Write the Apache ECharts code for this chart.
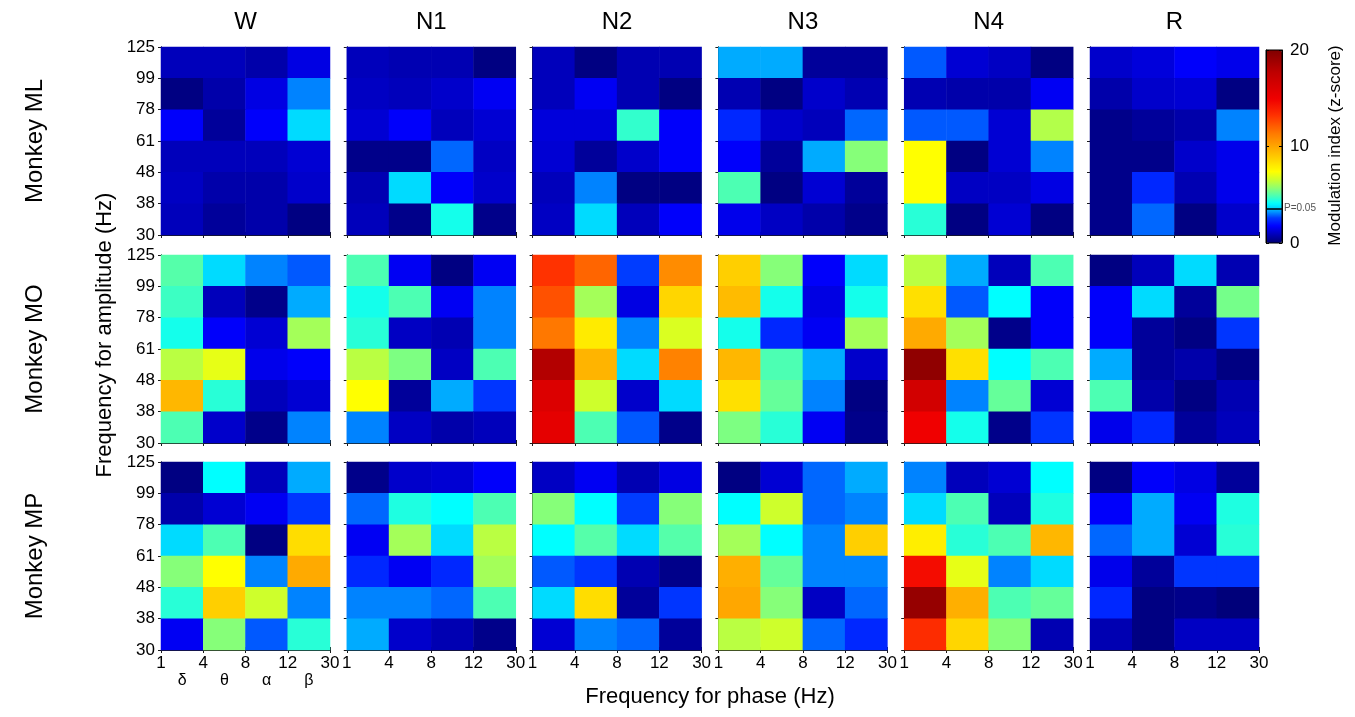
<!DOCTYPE html>
<html><head><meta charset="utf-8">
<script src="https://cdn.jsdelivr.net/npm/echarts@6/dist/echarts.min.js"></script>
<style>html,body{margin:0;padding:0;background:#fff}#c{width:1355px;height:717px}</style>
</head><body><div id="c"></div>
<script>
// ---------------- DATA ----------------
const stages = ['W', 'N1', 'N2', 'N3', 'N4', 'R'];
const monkeys = ['Monkey ML', 'Monkey MO', 'Monkey MP'];
const phaseTicks = ['1', '4', '8', '12', '30'];          // boundaries of phase bins (Hz)
const ampTicks = ['30', '38', '48', '61', '78', '99', '125']; // boundaries of amplitude bins (Hz)
const phaseBins = ['1-4', '4-8', '8-12', '12-30'];
const ampBins = ['30-38', '38-48', '48-61', '61-78', '78-99', '99-125'];
const bandLabels = ['δ', 'θ', 'α', 'β'];
const zMin = 0, zMax = 20, zTickStep = 10;
const pThreshold = 3.58;   // z-score line marked P=0.05

// Each panel: rows from top (99-125 Hz) to bottom (30-38 Hz); columns 1-4, 4-8, 8-12, 12-30 Hz
const ML_W  = [[0.9,0.9,0.7,1.4],[0.2,0.7,1.4,3.1],[1.7,0.5,1.7,3.7],[0.9,0.9,0.9,1.2],[1.0,0.7,0.7,1.1],[0.9,0.5,0.7,0.2]];
const ML_N1 = [[0.9,0.8,0.8,0.2],[1.0,0.9,1.1,1.6],[1.2,1.7,0.9,1.2],[0.3,0.3,2.9,1.0],[0.8,3.7,1.7,1.1],[0.9,0.3,4.3,0.3]];
const ML_N2 = [[0.9,0.2,0.8,0.8],[0.9,1.6,0.8,0.2],[1.3,1.3,4.6,1.7],[1.2,0.5,1.1,1.7],[0.9,3.1,0.2,0.2],[1.0,3.7,0.9,1.7]];
const ML_N3 = [[3.4,3.4,0.5,0.5],[0.8,0.2,1.1,0.8],[2.3,1.1,0.9,2.9],[1.7,0.5,3.4,5.6],[4.9,0.2,1.2,0.5],[1.5,1.0,0.7,0.3]];
const ML_N4 = [[2.8,1.2,1.0,0.2],[0.8,0.7,0.7,1.6],[2.8,2.8,1.2,6.2],[7.4,0.2,1.2,3.1],[7.4,1.0,1.0,1.4],[4.5,0.2,1.2,0.2]];
const ML_R  = [[1.1,1.3,1.7,1.5],[0.7,1.1,1.2,0.2],[0.3,0.5,0.7,3.1],[0.3,0.3,1.1,1.5],[0.3,2.3,0.8,1.5],[0.3,2.9,0.2,1.1]];

const MO_W  = [[5.0,3.7,3.1,2.8],[4.7,0.9,0.3,3.4],[4.3,1.7,1.2,6.0],[6.3,7.0,1.5,1.7],[9.5,4.5,0.9,1.2],[4.9,1.1,0.3,3.1]];
const MO_N1 = [[4.9,1.6,0.2,1.6],[4.3,4.9,1.6,3.1],[4.5,1.0,0.8,3.1],[6.3,5.5,1.0,4.9],[7.4,0.5,3.4,2.5],[3.1,1.0,0.7,0.9]];
const MO_N2 = [[13.2,11.9,2.6,10.8],[12.4,6.0,1.4,8.6],[11.4,8.0,3.1,6.8],[18.1,9.6,3.7,11.1],[16.0,6.6,1.1,3.7],[15.5,4.9,2.8,0.3]];
const MO_N3 = [[8.8,5.6,1.7,3.7],[9.4,4.3,1.4,4.3],[4.3,2.3,1.6,6.0],[9.5,4.9,3.4,1.1],[8.3,5.2,3.1,0.2],[5.5,4.5,1.6,0.3]];
const MO_N4 = [[6.3,3.4,0.9,4.9],[8.3,2.8,4.1,1.7],[9.9,6.0,0.3,1.7],[19.4,8.3,4.1,4.9],[16.6,3.1,5.2,1.2],[14.9,4.3,0.3,2.5]];
const MO_R  = [[0.2,0.9,3.7,0.8],[1.7,3.7,0.5,5.4],[1.7,0.5,0.2,2.5],[3.4,0.5,0.7,0.2],[4.9,0.7,0.2,0.8],[1.5,2.3,0.5,0.9]];

const MP_W  = [[0.2,4.1,0.9,3.4],[0.7,1.2,1.6,2.5],[3.7,4.9,0.2,8.4],[5.6,7.4,3.1,9.9],[4.5,8.8,6.6,3.1],[1.6,5.6,2.8,4.5]];
const MP_N1 = [[0.3,1.1,1.2,1.7],[2.9,4.4,4.1,4.9],[1.6,6.0,3.7,6.3],[2.3,1.6,2.3,6.0],[3.1,3.1,2.9,4.9],[3.4,1.1,0.8,0.3]];
const MP_N2 = [[1.0,1.6,0.8,1.4],[5.6,4.1,2.6,5.6],[4.1,5.0,3.7,5.0],[2.8,2.5,0.8,0.3],[3.7,8.4,0.5,2.5],[1.2,3.1,2.9,0.5]];
const MP_N3 = [[0.2,1.2,2.9,3.4],[4.1,6.6,2.9,3.1],[6.0,4.1,3.1,8.8],[9.75,5.2,3.1,3.1],[10.0,5.6,1.0,2.9],[6.3,6.6,2.9,2.3]];
const MP_N4 = [[3.1,0.9,1.2,4.1],[3.7,4.9,0.9,4.4],[7.9,4.5,4.9,9.5],[14.5,7.0,3.1,3.7],[19.2,9.75,4.9,5.2],[13.4,8.6,5.6,0.8]];
const MP_R  = [[0.2,1.7,1.4,0.5],[1.7,3.4,1.6,4.4],[2.9,3.4,1.2,4.5],[1.5,0.5,2.5,2.5],[2.3,0.2,0.3,0.1],[0.8,0.2,1.0,1.0]];

const panels = [
  [ML_W, ML_N1, ML_N2, ML_N3, ML_N4, ML_R],
  [MO_W, MO_N1, MO_N2, MO_N3, MO_N4, MO_R],
  [MP_W, MP_N1, MP_N2, MP_N3, MP_N4, MP_R]
];

// ---------------- STYLE / LAYOUT ----------------
const FONT = 'Liberation Sans, Arial, Helvetica, sans-serif';
const LAY = { left0: 161, step: 185.8, width: 169, tops: [47, 255, 462], height: 188 };
const CB = { left: 1266, top: 50, width: 16, height: 193 };
const EDGE = '#1a1a1a';

// colormap stops (value -> colour), jet-like with a break at the P=0.05 line
const cmapStops = [
  [0, [0,0,114]], [1.75, [0,0,255]], [2.6, [0,60,255]], [3.3, [0,160,255]], [3.57, [0,190,255]],
  [3.6, [0,210,255]], [4.1, [0,255,255]], [4.7, [60,255,195]], [5.8, [150,255,105]], [6.5, [200,255,50]],
  [7.4, [255,255,0]], [9.6, [255,180,0]], [11.4, [255,120,0]], [13.2, [255,50,0]], [14.9, [240,0,0]],
  [17.7, [190,0,0]], [20, [128,0,0]]
];
function cmapAt(v) {
  for (let i = 1; i < cmapStops.length; i++) {
    const [v1, c1] = cmapStops[i];
    const [v0, c0] = cmapStops[i - 1];
    if (v <= v1) {
      const f = (v - v0) / (v1 - v0);
      const c = c0.map((x, k) => Math.round(x + (c1[k] - x) * f));
      return 'rgb(' + c.join(',') + ')';
    }
  }
  return 'rgb(128,0,0)';
}
const cmapColors = [];
for (let i = 0; i <= 400; i++) cmapColors.push(cmapAt(zMin + (zMax - zMin) * i / 400));

// ---------------- BUILD ----------------
const grid = [], xAxis = [], yAxis = [], series = [], graphic = [];
let k = 0;
for (let r = 0; r < 3; r++) {
  for (let c = 0; c < 6; c++) {
    const left = LAY.left0 + c * LAY.step;
    const top = LAY.tops[r];
    grid.push({ left: left, top: top, width: LAY.width, height: LAY.height, containLabel: false, show: false });
    xAxis.push({ type: 'category', gridIndex: k, data: phaseBins, position: 'top',
      axisLine: { show: true, lineStyle: { color: EDGE, width: 1 } },
      axisTick: { show: true, inside: true, length: 3, lineStyle: { color: EDGE } },
      axisLabel: { show: false }, splitLine: { show: false } });
    xAxis.push({ type: 'value', gridIndex: k, min: 0, max: phaseTicks.length - 1, interval: 1, position: 'bottom',
      axisLine: { show: true, onZero: false, lineStyle: { color: EDGE, width: 1 } },
      axisTick: { show: true, inside: true, length: 3, lineStyle: { color: EDGE } },
      splitLine: { show: false },
      axisLabel: { show: r === 2, color: '#000', fontSize: 17, fontFamily: FONT, margin: 5,
        showMinLabel: true, showMaxLabel: true,
        formatter: v => phaseTicks[Math.round(v)] } });
    yAxis.push({ type: 'category', gridIndex: k, data: ampBins, position: 'right',
      axisLine: { show: true, lineStyle: { color: EDGE, width: 1 } },
      axisTick: { show: true, inside: true, length: 3, lineStyle: { color: EDGE } },
      axisLabel: { show: false }, splitLine: { show: false } });
    yAxis.push({ type: 'value', gridIndex: k, min: 0, max: ampTicks.length - 1, interval: 1, position: 'left',
      axisLine: { show: true, onZero: false, lineStyle: { color: EDGE, width: 1 } },
      axisTick: { show: true, inside: true, length: 3, lineStyle: { color: EDGE } },
      splitLine: { show: false },
      axisLabel: { show: c === 0, color: '#000', fontSize: 17, fontFamily: FONT, margin: 6,
        showMinLabel: true, showMaxLabel: true,
        formatter: v => ampTicks[Math.round(v)] } });
    const vals = panels[r][c];
    const data = [];
    for (let row = 0; row < vals.length; row++) {
      for (let col = 0; col < vals[row].length; col++) {
        data.push([col, vals.length - 1 - row, vals[row][col]]);
      }
    }
    series.push({ type: 'heatmap', xAxisIndex: 2 * k, yAxisIndex: 2 * k, data: data,
      progressive: 0, itemStyle: { borderWidth: 0 }, emphasis: { disabled: true }, silent: true, z: 1 });
    k++;
  }
}

// colorbar axes grid
const cbGrid = grid.length;
grid.push({ left: CB.left, top: CB.top, width: CB.width, height: CB.height, show: true,
  borderColor: '#000', borderWidth: 1, backgroundColor: 'transparent', z: 10 });
xAxis.push({ type: 'value', gridIndex: cbGrid, min: 0, max: 1, show: false });
const cbX = xAxis.length - 1;
yAxis.push({ type: 'value', gridIndex: cbGrid, min: zMin, max: zMax, interval: zTickStep, position: 'right', z: 10,
  axisLine: { show: true, onZero: false, lineStyle: { color: '#000' } },
  axisTick: { show: true, inside: true, length: 3, lineStyle: { color: '#000' } },
  splitLine: { show: false },
  axisLabel: { color: '#000', fontSize: 17, fontFamily: FONT, margin: 8 } });
const cbY = yAxis.length - 1;
yAxis.push({ type: 'value', gridIndex: cbGrid, min: zMin, max: zMax, interval: zTickStep, position: 'left', z: 10,
  axisLine: { show: true, onZero: false, lineStyle: { color: '#000' } },
  axisTick: { show: true, inside: true, length: 3, lineStyle: { color: '#000' } },
  splitLine: { show: false }, axisLabel: { show: false } });

series.push({ type: 'line', xAxisIndex: cbX, yAxisIndex: cbY, data: [], z: 10, silent: true,
  markLine: { silent: true, symbol: 'none', animation: false,
    lineStyle: { color: '#000', type: 'solid', width: 1.5 },
    label: { show: true, position: 'end', formatter: 'P=0.05', color: '#555', fontSize: 10, fontFamily: FONT, distance: 2 },
    data: [{ yAxis: pThreshold }] } });

// text labels
const panelCx = c => LAY.left0 + c * LAY.step + LAY.width / 2;
const rowCy = r => LAY.tops[r] + LAY.height / 2;
function txt(text, x, y, size, rot, extra) {
  return Object.assign({ type: 'text', x: x, y: y, rotation: rot || 0, silent: true,
    style: { text: text, font: size + 'px ' + FONT, fill: '#000',
      align: 'center', verticalAlign: 'middle', textAlign: 'center', textVerticalAlign: 'middle' } }, extra || {});
}
stages.forEach((s, c) => graphic.push(txt(s, panelCx(c), 22, 24)));
monkeys.forEach((m, r) => graphic.push(txt(m, 35, rowCy(r), 24, Math.PI / 2)));
graphic.push(txt('Frequency for amplitude (Hz)', 105, 335, 22, Math.PI / 2));
graphic.push(txt('Frequency for phase (Hz)', 710, 697, 22, 0));
graphic.push(txt('Modulation index (z-score)', 1335, CB.top + CB.height / 2 - 1, 17, Math.PI / 2));
bandLabels.forEach((b, i) => graphic.push(txt(b, LAY.left0 + LAY.width * (i + 0.5) / bandLabels.length,
  LAY.tops[2] + LAY.height + 31, 16, 0)));

const option = {
  animation: false,
  backgroundColor: '#fff',
  grid: grid, xAxis: xAxis, yAxis: yAxis, series: series, graphic: graphic,
  visualMap: {
    type: 'continuous', min: zMin, max: zMax, calculable: false, hoverLink: false,
    seriesIndex: Array.from({ length: 18 }, (_, i) => i),
    orient: 'vertical', left: CB.left, top: CB.top, itemWidth: CB.width, itemHeight: CB.height,
    padding: 0, inRange: { color: cmapColors }, z: 4
  }
};
const chart = echarts.init(document.getElementById('c'), null, { renderer: 'canvas' });
chart.setOption(option);
</script></body></html>
